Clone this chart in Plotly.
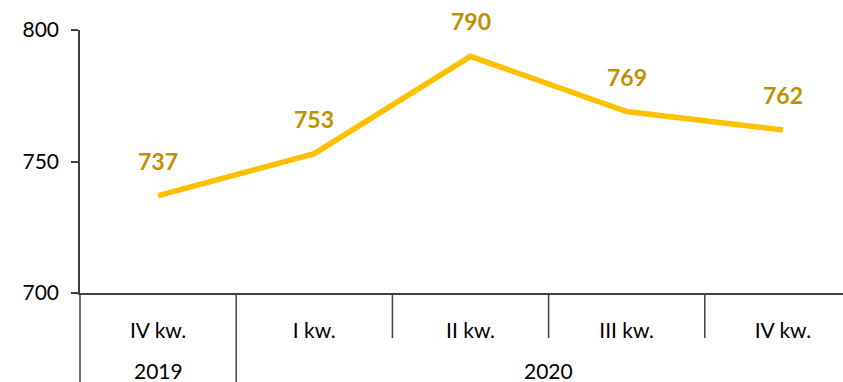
import plotly.graph_objects as go

# Quarterly values
quarters = ["IV kw.", "I kw.", "II kw.", "III kw.", "IV kw."]
years = ["2019", "2020"]
year_spans = [(0, 0), (1, 4)]  # first/last quarter index of each year
values = [737, 753, 790, 769, 762]

LINE_COLOR = "#FFC000"
LABEL_COLOR = "#BF9000"
AXIS_COLOR = "#404040"
FONT = "Lato"

W, H = 843, 382
M_L, M_R, M_T, M_B = 80, 0, 30, 89
plot_h = H - M_T - M_B
CAT_PX = 156.2  # width of one category slot in pixels

x = list(range(len(values)))

fig = go.Figure()
fig.add_trace(go.Scatter(
    x=x, y=values, mode="lines",
    line=dict(color=LINE_COLOR, width=5.5),
    hoverinfo="skip", showlegend=False,
))

# value labels above each point
for xi, v in zip(x, values):
    fig.add_annotation(
        x=xi, y=v, text=str(v), showarrow=False, yshift=35,
        font=dict(family=FONT, size=23, color=LABEL_COLOR, weight="bold"),
    )


def py(px_below_axis):
    """paper y coordinate for a pixel distance below the x axis"""
    return -px_below_axis / plot_h


shapes = []
# separators between quarters; year boundaries run through both label rows
year_edges = {s[0] - 0.5 for s in year_spans}
for b in range(len(values) - 1):
    bx = b + 0.5
    shapes.append(dict(
        type="line", xref="x", yref="paper", x0=bx, x1=bx,
        y0=0, y1=py(89 if bx in year_edges else 45),
        line=dict(color=AXIS_COLOR, width=1.5),
    ))
# left edge running through both label rows
shapes.append(dict(
    type="line", xref="paper", yref="paper", x0=0, x1=0,
    y0=0, y1=py(89), line=dict(color=AXIS_COLOR, width=1.5),
))

# year labels
for label, (a, b) in zip(years, year_spans):
    fig.add_annotation(
        x=(a + b) / 2, y=py(77), xref="x", yref="paper",
        text=label, showarrow=False, yanchor="middle",
        font=dict(family=FONT, size=21, color="#000000"),
    )

x_max = -0.5 + (W - M_L - M_R) / CAT_PX

fig.update_layout(
    width=W, height=H,
    margin=dict(l=M_L, r=M_R, t=M_T, b=M_B),
    plot_bgcolor="white", paper_bgcolor="white",
    font=dict(family=FONT, size=21, color="#000000"),
    shapes=shapes,
    xaxis=dict(
        range=[-0.5, x_max], tickvals=x, ticktext=quarters,
        showgrid=False, zeroline=False, showline=True,
        linecolor=AXIS_COLOR, linewidth=1.5, ticks="",
        ticklabelstandoff=18,
        tickfont=dict(family=FONT, size=21, color="#000000"),
        fixedrange=True,
    ),
    yaxis=dict(
        range=[700, 800], tickvals=[700, 750, 800],
        showgrid=False, zeroline=False, showline=True,
        linecolor=AXIS_COLOR, linewidth=1.5,
        ticks="outside", ticklen=7, tickwidth=1.5, tickcolor=AXIS_COLOR,
        ticklabelstandoff=8,
        tickfont=dict(family=FONT, size=21, color="#000000"),
        fixedrange=True,
    ),
)

fig.write_html("out.html")
